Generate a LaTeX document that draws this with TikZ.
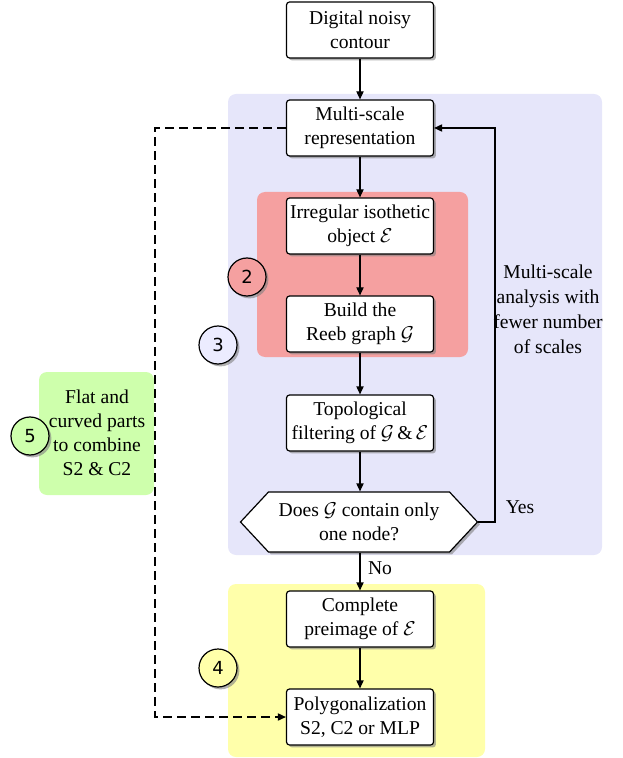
\documentclass[tikz,border=0pt]{standalone}
\usepackage{amsmath}
\usepackage{fontspec}
\setmainfont{Liberation Serif}
\newfontfamily\markfont{DejaVu Sans}
\usepackage{tikz}
\usetikzlibrary{arrows.meta, shapes.symbols, shadows}
\definecolor{scaleblue}{RGB}{230, 230, 250}
\definecolor{markblue}{RGB}{236, 236, 255}
\definecolor{reebred}{RGB}{245, 160, 160}
\definecolor{polyyellow}{RGB}{255, 255, 170}
\definecolor{partgreen}{RGB}{206, 255, 172}
\newcommand{\stepmark}[4]{
\node[stepdisc, fill=#4] (#1) at (#2) {#3};
}

\begin{document}
\begin{tikzpicture}[x=0.5pt, y=-0.5pt,
    font=\fontsize{9.8}{12}\selectfont,
    line width=0.6pt,
    >={Triangle[length=4pt, width=3.6pt]},
    softshadow/.style={drop shadow={shadow xshift=1.2pt, shadow yshift=-1.2pt, opacity=0.6}},
    stepbox/.style={draw, rounded corners=1.5pt, fill=white, align=center,
        minimum width=73.5pt, minimum height=28pt, inner xsep=1pt, softshadow},
    testbox/.style={draw, signal, signal to=west and east, signal pointer angle=94,
        fill=white, align=center, minimum width=118.5pt, minimum height=30pt,
        inner xsep=0pt, inner ysep=1pt, softshadow},
    stepdisc/.style={draw, circle, minimum size=19pt, inner sep=0pt,
        font=\markfont\fontsize{9}{10}\selectfont, softshadow},
    zone/.style={rounded corners=4pt}]
    \useasboundingbox (0,0) rectangle (622,758);

    % coloured zones
    \fill[zone, scaleblue] (228,94) rectangle (602,555);
    \fill[zone, reebred] (257,192) rectangle (468,357);
    \fill[zone, polyyellow] (228,584) rectangle (485,757);
    \fill[zone, partgreen] (39,372) rectangle (154,495);

    % flow
    \node[stepbox] (contour) at (360,30) {Digital noisy\\contour};
    \node[stepbox] (multi) at (360,128) {Multi-scale\\representation};
    \node[stepbox] (object) at (360,226) {Irregular isothetic\\object $\mathcal{E}$};
    \node[stepbox] (reeb) at (360,324) {Build the\\Reeb graph $\mathcal{G}$};
    \node[stepbox] (filter) at (360,423) {Topological\\filtering of $\mathcal{G}\,\&\,\mathcal{E}$};
    \node[testbox] (test) at (359,522) {Does $\mathcal{G}$ contain only\\one node?};
    \node[stepbox] (preimage) at (360,619) {Complete\\preimage of $\mathcal{E}$};
    \node[stepbox] (poly) at (360,717) {Polygonalization\\S2, C2 or MLP};

    \node[align=center] (parts) at (97,433) {Flat and\\curved parts\\to combine\\S2 \& C2};
    \node[align=center, font=\fontsize{9.8}{12.5}\selectfont] (fewer) at (548,309)
        {Multi-scale\\analysis with\\fewer number\\of scales};
    \node (yes) at (520,507) {Yes};
    \node (no) at (380,568) {No};

    \stepmark{mark2}{247,277}{2}{reebred}
    \stepmark{mark3}{218,345}{3}{markblue}
    \stepmark{mark4}{218,668}{4}{polyyellow}
    \stepmark{mark5}{30,436}{5}{partgreen}

    \coordinate (loopx) at (495,0);
    \coordinate (dashx) at (155,0);

    \draw[->] (contour) -- (multi);
    \draw[->] (multi) -- (object);
    \draw[->] (object) -- (reeb);
    \draw[->] (reeb) -- (filter);
    \draw[->] (filter) -- (filter |- test.north);
    \draw[->] (test.south -| preimage) -- (preimage);
    \draw[->] (preimage) -- (poly);
    \draw[->] (test.east) -- (test.east -| loopx) |- (multi.east);
    \draw[->, dash pattern=on 4.5pt off 2.5pt] (multi.west) -- (multi.west -| dashx) |- (poly.west);
\end{tikzpicture}
\end{document}
